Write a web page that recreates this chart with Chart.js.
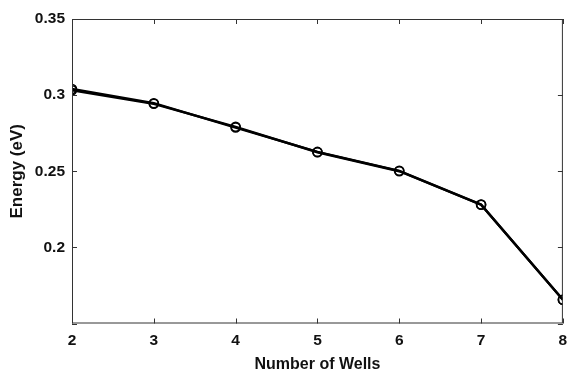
<!DOCTYPE html>
<html>
<head>
<meta charset="utf-8">
<script src="https://cdn.jsdelivr.net/npm/chart.js@4"></script>
<style>
  html, body { margin: 0; padding: 0; background: #fff; }
  #wrap { width: 569px; height: 375px; }
</style>
</head>
<body>
<div id="wrap"><canvas id="chart"></canvas></div>
<script>
const wells = [2, 3, 4, 5, 6, 7, 8];
const energyA = [0.3040, 0.2947, 0.2787, 0.2627, 0.2503, 0.2281, 0.1656];
const energyB = [0.3032, 0.2943, 0.2792, 0.2625, 0.2500, 0.2280, 0.1656];
const xTicks = [2, 3, 4, 5, 6, 7, 8];
const yTicks = [0.15, 0.2, 0.25, 0.3, 0.35];

const fontFamily = "'Liberation Sans', Arial, sans-serif";

// MATLAB style box with inward tick marks
const frame = {
    id: "frame",
    afterDatasetsDraw(chart) {
        const { ctx, chartArea: a, scales } = chart;
        ctx.save();
        ctx.strokeStyle = "#333";
        ctx.lineWidth = 1;
        ctx.strokeRect(a.left + 0.5, a.top + 0.5, a.right - a.left - 1, a.bottom - a.top - 1);
        ctx.beginPath();
        xTicks.forEach(v => {
            const x = Math.round(scales.x.getPixelForValue(v)) + 0.5;
            ctx.moveTo(x, a.bottom); ctx.lineTo(x, a.bottom - 5);
            ctx.moveTo(x, a.top); ctx.lineTo(x, a.top + 5);
        });
        yTicks.forEach(v => {
            const y = Math.round(scales.y.getPixelForValue(v)) + 0.5;
            ctx.moveTo(a.left, y); ctx.lineTo(a.left + 5, y);
            ctx.moveTo(a.right, y); ctx.lineTo(a.right - 5, y);
        });
        ctx.stroke();
        ctx.restore();
    }
};

const ctx = document.getElementById("chart");

const lineStyle = {
    borderColor: "#000",
    borderWidth: 2.4,
    pointStyle: "circle",
    pointRadius: 4.5,
    pointBorderWidth: 1.6,
    pointBorderColor: "#000",
    pointBackgroundColor: "rgba(0,0,0,0)",
    tension: 0
};

const config = {
    type: "line",
    data: {
        datasets: [
            Object.assign({ label: "A", data: wells.map((w, i) => ({ x: w, y: energyA[i] })) }, lineStyle),
            Object.assign({ label: "B", data: wells.map((w, i) => ({ x: w, y: energyB[i] })) }, lineStyle)
        ]
    },
    options: {
        responsive: true,
        maintainAspectRatio: false,
        animation: false,
        layout: { padding: { top: 19, right: 4, left: 0, bottom: 0 } },
        plugins: {
            legend: { display: false },
            tooltip: { enabled: false }
        },
        scales: {
            x: {
                type: "linear",
                min: 2,
                max: 8,
                afterFit: s => {
                    s.height = 51.5;
                    s.paddingLeft = 0;
                    s.paddingRight = 0;
                },
                afterBuildTicks: s => { s.ticks = xTicks.map(v => ({ value: v })); },
                grid: { display: false, drawTicks: false },
                border: { display: false },
                ticks: {
                    padding: 8,
                    color: "#111",
                    font: { family: fontFamily, size: 15.5, weight: "bold" },
                    maxRotation: 0
                },
                title: {
                    display: true,
                    text: "Number of Wells",
                    color: "#111",
                    padding: { top: 0, bottom: 1 },
                    font: { family: fontFamily, size: 16, weight: "bold" }
                }
            },
            y: {
                type: "linear",
                min: 0.15,
                max: 0.35,
                afterFit: s => { s.width = 72; },
                afterBuildTicks: s => { s.ticks = yTicks.map(v => ({ value: v })); },
                grid: { display: false, drawTicks: false },
                border: { display: false },
                ticks: {
                    padding: 7,
                    color: "#111",
                    font: { family: fontFamily, size: 15.5, weight: "bold" },
                    callback: v => Math.abs(v - 0.15) < 1e-6 ? "" : String(+v.toFixed(2))
                },
                title: {
                    display: true,
                    text: "Energy (eV)",
                    color: "#111",
                    padding: { top: 7, bottom: 0 },
                    font: { family: fontFamily, size: 17, weight: "bold" }
                }
            }
        }
    },
    plugins: [frame]
};

const chartLine = new Chart(ctx, config);
</script>
</body>
</html>
